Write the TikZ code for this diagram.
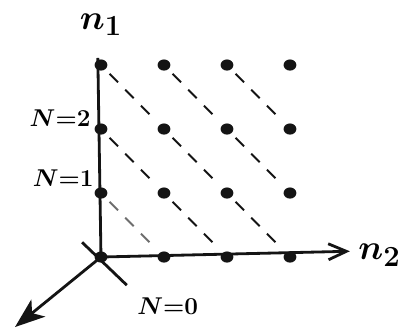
\documentclass[tikz,border=0pt]{standalone}
\usepackage{amsmath}
\usepackage{tikz}
\usetikzlibrary{arrows.meta,positioning,shapes.geometric}
\definecolor{inkblack}{RGB}{20,20,20}
\definecolor{inkgray}{RGB}{110,110,110}

\begin{document}
\begin{tikzpicture}[x=1.575cm, y=1.6cm,
  axis/.style={inkblack, line width=2pt},
  dot/.style={ellipse, fill=inkblack, inner sep=0pt, minimum width=3.2mm, minimum height=2.8mm},
  diag/.style={inkblack, line width=1.4pt, dash pattern=on 3mm off 2.6mm, shorten <=1.5mm, shorten >=1.5mm},
  lab/.style={font=\LARGE\boldmath}]
\useasboundingbox (-1.603,-1.125) rectangle (4.794,4.016);
% axes
\coordinate (o) at (0,0);
\coordinate (n1top) at (-0.05,3.11);
\coordinate (n2end) at (3.95,0.09);
\coordinate (n3end) at (-1.365,-1.094);
\coordinate (crossa) at (-0.30,0.23);
\coordinate (crossb) at (0.41,-0.44);
\draw[axis] (o) -- (n1top);
\draw[axis, -{Straight Barb[length=4.5mm, width=4mm]}] (o) -- (n2end);
\draw[axis, -{Stealth[length=7.5mm, width=5.5mm, inset=2mm]}] (o) -- (n3end);
\draw[axis] (crossa) -- (crossb);
\node[font=\Huge\boldmath] (n1lab) at (0,3.63) {$n_1$};
\node[font=\Huge\boldmath] (n2lab) at (4.42,0.03) {$n_2$};
% lattice points
\foreach \a in {0,...,3}
  \foreach \b in {0,...,3}
    \node[dot] (p\a\b) at (\b,\a) {};
% lines of constant N
\draw[diag, inkgray] (p10) -- (p01);
\foreach \a/\b/\c/\d in {1/1/0/2, 1/2/0/3, 2/0/1/1, 2/1/1/2, 2/2/1/3, 3/0/2/1, 3/1/2/2, 3/2/2/3}
  \draw[diag] (p\a\b) -- (p\c\d);
\node[lab] (nzero) at (1.06,-0.77) {$N{=}0$};
\node[lab] (none) at (-0.60,1.23) {$N{=}1$};
\node[lab] (ntwo) at (-0.65,2.17) {$N{=}2$};
\end{tikzpicture}
\end{document}
